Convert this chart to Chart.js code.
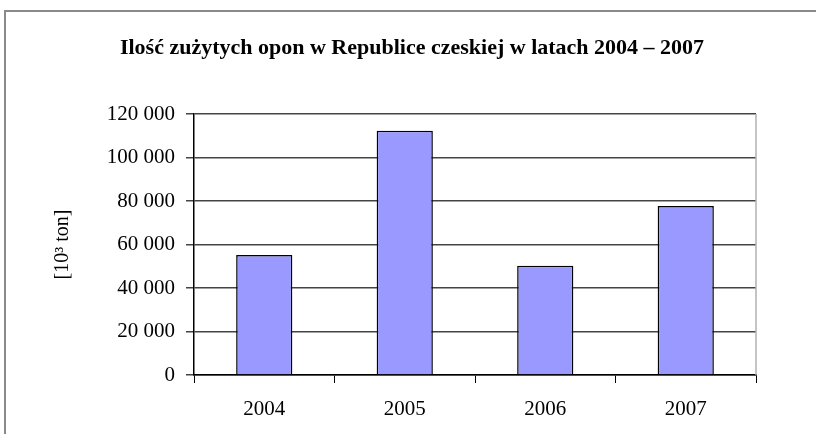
<!DOCTYPE html>
<html>
<head>
<meta charset="utf-8">
<script src="https://cdn.jsdelivr.net/npm/chart.js@4/dist/chart.umd.min.js"></script>
<style>
  html, body { margin: 0; padding: 0; background: #fff; }
  canvas { display: block; }
</style>
</head>
<body>
<canvas id="chart" width="816" height="434"></canvas>
<script>
var years = ["2004", "2005", "2006", "2007"];
var tyres = [55200, 112300, 50200, 77700];
var yTicks = [0, 20000, 40000, 60000, 80000, 100000, 120000];
var chartTitle = "Ilość zużytych opon w Republice czeskiej w latach 2004 – 2007";

var serif = '"Liberation Serif", "Times New Roman", serif';

function spaced(v) {
  return String(v).replace(/\B(?=(\d{3})+(?!\d))/g, " ");
}

// outer frame, title (centred on the frame, not the plot) and right edge of the plot area
var framePlugin = {
  id: "frame",
  beforeDraw: function (chart) {
    var ctx = chart.ctx;
    ctx.save();
    ctx.fillStyle = "#fff";
    ctx.fillRect(0, 0, chart.width, chart.height);
    ctx.strokeStyle = "#8a8a8a";
    ctx.lineWidth = 2;
    ctx.strokeRect(5, 11, 900, 600);
    ctx.fillStyle = "#000";
    ctx.font = "bold 22px " + serif;
    ctx.textAlign = "center";
    ctx.textBaseline = "middle";
    ctx.fillText(chartTitle, 412, 48);
    ctx.restore();
  },
  afterDraw: function (chart) {
    var a = chart.chartArea;
    var ctx = chart.ctx;
    ctx.save();
    ctx.strokeStyle = "#b0b0b0";
    ctx.lineWidth = 1.5;
    ctx.beginPath();
    ctx.moveTo(a.right, a.top);
    ctx.lineTo(a.right, a.bottom);
    ctx.stroke();
    ctx.restore();
  },
};

new Chart(document.getElementById("chart"), {
  type: "bar",
  data: {
    labels: years,
    datasets: [
      {
        data: tyres,
        backgroundColor: "#9999ff",
        borderColor: "#000",
        borderWidth: 1.5,
        barPercentage: 0.4,
        categoryPercentage: 1.0,
      },
    ],
  },
  options: {
    responsive: false,
    animation: false,
    devicePixelRatio: 1,
    layout: { padding: { left: 5, right: 60, top: 114, bottom: 0 } },
    plugins: {
      legend: { display: false },
      tooltip: { enabled: false },
      title: { display: false },
    },
    scales: {
      x: {
        grid: {
          drawOnChartArea: false,
          drawTicks: true,
          tickLength: 8,
          color: "#000",
          lineWidth: 1,
        },
        border: { color: "#000", width: 1.5 },
        ticks: { color: "#000", font: { family: serif, size: 21 }, padding: 14 },
        afterFit: function (scale) { scale.height = 59; },
      },
      y: {
        min: 0,
        max: 120000,
        afterBuildTicks: function (scale) {
          scale.ticks = yTicks.map(function (v) { return { value: v }; });
        },
        grid: { color: "#444", lineWidth: 1.5, tickLength: 8 },
        border: { color: "#000", width: 1.5 },
        ticks: {
          color: "#000",
          font: { family: serif, size: 21 },
          padding: 11,
          callback: function (v) { return spaced(v); },
        },
        title: {
          display: true,
          text: "[10³ ton]",
          color: "#000",
          font: { family: serif, size: 20 },
          padding: { top: 46, bottom: 0 },
        },
        afterFit: function (scale) { scale.width = 189; },
      },
    },
  },
  plugins: [framePlugin],
});
</script>
</body>
</html>
